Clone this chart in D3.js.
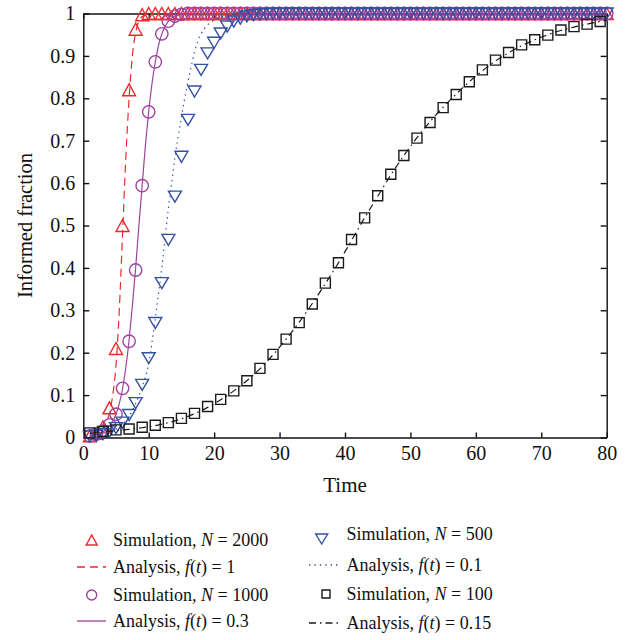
<!DOCTYPE html>
<html>
<head>
<meta charset="utf-8">
<script src="https://cdn.jsdelivr.net/npm/d3@7"></script>
<style>
  html, body { margin: 0; padding: 0; background: #fff; }
  svg text { font-family: "Liberation Serif", "Times New Roman", serif; fill: #111; }
</style>
</head>
<body>
<svg id="chart"></svg>
<script>
// time grid of the simulations (every step)
const time = [1,2,3,4,5,6,7,8,9,10,11,12,13,14,15,16,17,18,19,20,
  21,22,23,24,25,26,27,28,29,30,31,32,33,34,35,36,37,38,39,40,
  41,42,43,44,45,46,47,48,49,50,51,52,53,54,55,56,57,58,59,60,
  61,62,63,64,65,66,67,68,69,70,71,72,73,74,75,76,77,78,79,80];

// simulation, N = 2000
const sim2000 = [0.004,0.010,0.025,0.07,0.21,0.50,0.82,0.963,0.997,1,
  1,1,1,1,1,1,1,1,1,1, 1,1,1,1,1,1,1,1,1,1, 1,1,1,1,1,1,1,1,1,1,
  1,1,1,1,1,1,1,1,1,1, 1,1,1,1,1,1,1,1,1,1, 1,1,1,1,1,1,1,1,1,1,
  1,1,1,1,1,1,1,1,1,1];

// simulation, N = 1000
const sim1000 = [0.004,0.008,0.015,0.03,0.055,0.116,0.227,0.395,0.594,0.768,
  0.886,0.952,0.982,0.994,0.998,1,1,1,1,1, 1,1,1,1,1,1,1,1,1,1,
  1,1,1,1,1,1,1,1,1,1, 1,1,1,1,1,1,1,1,1,1, 1,1,1,1,1,1,1,1,1,1,
  1,1,1,1,1,1,1,1,1,1, 1,1,1,1,1,1,1,1,1,1];

// simulation, N = 500
const sim500 = [0.002,0.004,0.008,0.014,0.022,0.035,0.053,0.081,0.124,0.187,
  0.27,0.364,0.466,0.568,0.662,0.749,0.816,0.867,0.906,0.931,
  0.953,0.969,0.981,0.988,0.993,0.996,0.998,0.999,1,1,
  1,1,1,1,1,1,1,1,1,1, 1,1,1,1,1,1,1,1,1,1, 1,1,1,1,1,1,1,1,1,1,
  1,1,1,1,1,1,1,1,1,1, 1,1,1,1,1,1,1,1,1,1];

// simulation, N = 100 (every second step)
const time100 = [1,3,5,7,9,11,13,15,17,19,21,23,25,27,29,31,33,35,37,39,
  41,43,45,47,49,51,53,55,57,59,61,63,65,67,69,71,73,75,77,79];
const sim100 = [0.011,0.014,0.018,0.020,0.024,0.029,0.035,0.045,0.057,0.073,
  0.090,0.110,0.134,0.163,0.196,0.232,0.271,0.315,0.364,0.412,
  0.467,0.518,0.570,0.621,0.665,0.706,0.743,0.778,0.809,0.839,
  0.867,0.890,0.908,0.926,0.938,0.949,0.961,0.969,0.975,0.981];

// analysis, f(t) = 1
const anaTime1 = [1,2,3,3.5,4,4.5,5,5.5,6,6.5,7,7.5,8,8.5,9,10,11,80];
const ana1 = [0.004,0.009,0.022,0.035,0.058,0.10,0.17,0.30,0.48,0.66,0.80,0.90,0.955,0.982,0.993,0.999,1,1];

// analysis, f(t) = 0.3
const anaTime03 = [1,2,3,4,5,5.5,6,6.5,7,7.5,8,8.5,9,9.5,10,10.5,11,11.5,12,13,14,15,16,80];
const ana03 = [0.004,0.007,0.013,0.027,0.055,0.08,0.115,0.165,0.23,0.31,0.40,0.50,0.595,0.69,0.77,0.835,0.885,0.925,0.952,0.982,0.994,0.998,1,1];

// analysis, f(t) = 0.1
const anaTime01 = [1,2,3,4,5,6,7,8,9,10,10.5,11,11.5,12,12.5,13,13.5,14,14.5,15,15.5,16,16.5,17,17.5,18,19,20,21,22,24,26,80];
const ana01 = [0.002,0.004,0.007,0.012,0.02,0.032,0.05,0.08,0.12,0.175,0.225,0.28,0.34,0.40,0.47,0.54,0.60,0.66,0.71,0.755,0.80,0.84,0.875,0.91,0.935,0.952,0.973,0.985,0.992,0.996,0.999,1,1];

// analysis, f(t) = 0.15
const anaTime015 = [1,3,5,7,9,11,13,15,17,19,21,23,25,27,29,31,33,35,37,39,
  41,43,45,47,49,51,53,55,57,59,61,63,65,67,69,71,73,75,77,79,80];
const ana015 = [0.010,0.013,0.016,0.019,0.023,0.028,0.035,0.044,0.056,0.071,
  0.089,0.110,0.134,0.162,0.195,0.232,0.272,0.316,0.363,0.412,
  0.465,0.518,0.569,0.619,0.665,0.707,0.745,0.779,0.810,0.839,
  0.865,0.888,0.907,0.924,0.938,0.950,0.960,0.968,0.975,0.981,0.984];

const xTicks = [0,10,20,30,40,50,60,70,80];
const yTicks = [0,0.1,0.2,0.3,0.4,0.5,0.6,0.7,0.8,0.9,1];

const RED = "#ec2a2e", PURPLE = "#a0429f", BLUE = "#3451a3", BLACK = "#1a1a1a";

const width = 631, height = 640;
const svg = d3.select("#chart").attr("width", width).attr("height", height);

const x = d3.scaleLinear().domain([0, 80]).range([83.3, 606.7]);
const y = d3.scaleLinear().domain([0, 1]).range([437.5, 13.5]);

// axes, ticks pointing inward
svg.append("g").attr("transform", `translate(0,${y(0)})`)
  .call(d3.axisBottom(x).tickValues(xTicks).tickSize(-5).tickSizeOuter(0).tickPadding(8))
  .call(g => g.selectAll("text").style("font-size", "20px"));
svg.append("g").attr("transform", `translate(${x(0)},0)`)
  .call(d3.axisLeft(y).tickValues(yTicks).tickFormat(d => d).tickSize(-6).tickSizeOuter(0).tickPadding(8))
  .call(g => g.selectAll("text").style("font-size", "20px"));
svg.append("g").attr("transform", `translate(0,${y(1)})`)
  .call(d3.axisTop(x).tickValues(xTicks).tickSize(-5).tickSizeOuter(0).tickFormat(""));
svg.append("g").attr("transform", `translate(${x(80)},0)`)
  .call(d3.axisRight(y).tickValues(yTicks).tickSize(-6).tickSizeOuter(0).tickFormat(""));
svg.selectAll(".domain, .tick line").attr("stroke", "#111").attr("stroke-width", 1.4);

svg.append("text").attr("x", (x(0) + x(80)) / 2).attr("y", 492)
  .attr("text-anchor", "middle").style("font-size", "21px").text("Time");
svg.append("text").attr("transform", `translate(32,${(y(0) + y(1)) / 2}) rotate(-90)`)
  .attr("text-anchor", "middle").style("font-size", "20.5px").text("Informed fraction");

// marker shapes, centred on their bounding box
const shapes = {
  up: "M0,-6L6.5,6L-6.5,6Z",
  down: "M0,5.5L6.5,-5.5L-6.5,-5.5Z",
  circle: d3.symbol(d3.symbolCircle, Math.PI * 6.2 * 6.2)(),
  square: "M-5,-5H5V5H-5Z"
};
const legendShapes = {
  up: "M0,-5L5.5,5L-5.5,5Z",
  down: "M0,5L6,-5L-6,-5Z",
  circle: d3.symbol(d3.symbolCircle, Math.PI * 5 * 5)(),
  square: "M-4,-4H4V4H-4Z"
};

const lineGen = d3.line().x(d => x(d[0])).y(d => y(d[1])).curve(d3.curveMonotoneX);

const series = [
  { kind: "points", t: time, v: sim2000, shape: "up", color: RED },
  { kind: "line", t: anaTime1, v: ana1, dash: "8,5", color: RED },
  { kind: "points", t: time, v: sim1000, shape: "circle", color: PURPLE },
  { kind: "line", t: anaTime03, v: ana03, dash: null, color: PURPLE },
  { kind: "points", t: time, v: sim500, shape: "down", color: BLUE },
  { kind: "line", t: anaTime01, v: ana01, dash: "1.4,4", color: BLUE },
  { kind: "points", t: time100, v: sim100, shape: "square", color: BLACK },
  { kind: "line", t: anaTime015, v: ana015, dash: "7,4,1.5,4", color: BLACK }
];

const plot = svg.append("g");
series.forEach(s => {
  const pts = s.t.map((t, i) => [t, s.v[i]]);
  if (s.kind === "line") {
    plot.append("path").datum(pts)
      .attr("d", lineGen)
      .attr("fill", "none")
      .attr("stroke", s.color)
      .attr("stroke-width", 1.2)
      .attr("stroke-dasharray", s.dash);
  } else {
    plot.append("g").selectAll("path").data(pts).join("path")
      .attr("transform", d => `translate(${x(d[0])},${y(d[1])})`)
      .attr("d", shapes[s.shape])
      .attr("fill", "none")
      .attr("stroke", s.color)
      .attr("stroke-width", 1.4);
  }
});

// legend, two columns
const legendItems = [
  { col: 0, cy: 540, kind: "points", shape: "up", color: RED, label: ["Simulation, ", "N", " = 2000"] },
  { col: 0, cy: 567, kind: "line", dash: "8,5", color: RED, label: ["Analysis, ", "f", "(", "t", ") = 1"] },
  { col: 0, cy: 595, kind: "points", shape: "circle", color: PURPLE, label: ["Simulation, ", "N", " = 1000"] },
  { col: 0, cy: 621, kind: "line", dash: null, color: PURPLE, label: ["Analysis, ", "f", "(", "t", ") = 0.3"] },
  { col: 1, cy: 534, symY: 539, kind: "points", shape: "down", color: BLUE, label: ["Simulation, ", "N", " = 500"] },
  { col: 1, cy: 565, kind: "line", dash: "1.4,4", color: BLUE, label: ["Analysis, ", "f", "(", "t", ") = 0.1"] },
  { col: 1, cy: 594, kind: "points", shape: "square", color: BLACK, label: ["Simulation, ", "N", " = 100"] },
  { col: 1, cy: 623, kind: "line", dash: "7,4,1.5,4", color: BLACK, label: ["Analysis, ", "f", "(", "t", ") = 0.15"] }
];
const colX = [{ sym: 91.7, x1: 77, x2: 106, text: 113 }, { sym: 326, x1: 309, x2: 340, text: 346.5 }];

const legend = svg.append("g");
legendItems.forEach(it => {
  const c = colX[it.col];
  if (it.kind === "line") {
    legend.append("line")
      .attr("x1", c.x1).attr("x2", c.x2).attr("y1", it.cy).attr("y2", it.cy)
      .attr("stroke", it.color).attr("stroke-width", 1.3)
      .attr("stroke-dasharray", it.dash);
  } else {
    legend.append("path")
      .attr("transform", `translate(${it.shape === "down" ? 321.7 : c.sym},${it.symY || it.cy})`)
      .attr("d", legendShapes[it.shape])
      .attr("fill", "none").attr("stroke", it.color).attr("stroke-width", 1.4);
  }
  const txt = legend.append("text").attr("x", c.text).attr("y", it.cy).attr("dy", "0.33em")
    .style("font-size", "18px");
  it.label.forEach(part => {
    const italic = part === "N" || part === "f" || part === "t";
    txt.append("tspan").style("font-style", italic ? "italic" : "normal").text(part);
  });
});
</script>
</body>
</html>
